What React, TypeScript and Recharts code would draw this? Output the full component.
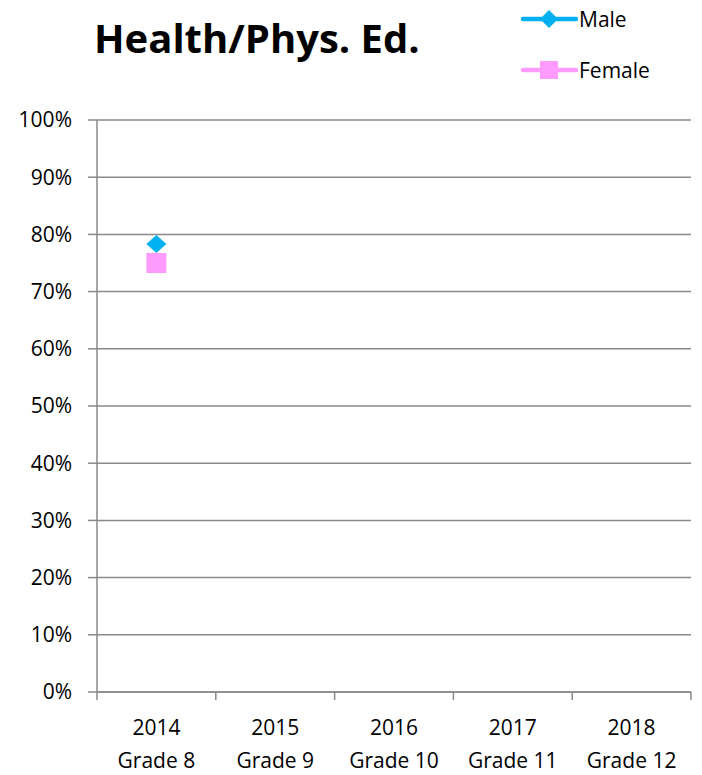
import React from "react";
import { CartesianGrid, Line, LineChart, XAxis, YAxis } from "recharts";

const years = ["2014", "2015", "2016", "2017", "2018"];
const grades = ["Grade 8", "Grade 9", "Grade 10", "Grade 11", "Grade 12"];
const malePct = [78.3, null, null, null, null];
const femalePct = [75, null, null, null, null];
const yTicks = [0, 10, 20, 30, 40, 50, 60, 70, 80, 90, 100];

const MALE = "#00b0f0";
const FEMALE = "#ff9bff";
const AXIS = "#898989";
const FONT = "'Open Sans', sans-serif";

const W = 702;
const H = 775;
const margin = { top: 120, right: 11, bottom: 0, left: 0 };
const yAxisW = 97;
const xAxisH = 83;
const band = (W - yAxisW - margin.right) / years.length;

const data = years.map((y, i) => ({ year: y, grade: grades[i], male: malePct[i], female: femalePct[i] }));

function XTick(props: any) {
  const { x, y, index } = props;
  const row = data[index];
  const left = x - band / 2;
  return (
    <g>
      <line x1={left} y1={y - 8} x2={left} y2={y} stroke={AXIS} strokeWidth={1.5} />
      {index === years.length - 1 && <line x1={x + band / 2} y1={y - 8} x2={x + band / 2} y2={y} stroke={AXIS} strokeWidth={1.5} />}
      <text x={x} y={y + 35} textAnchor="middle" fill="#000" fontSize={21} fontFamily={FONT}>{row?.year}</text>
      <text x={x} y={y + 68} textAnchor="middle" fill="#000" fontSize={21} fontFamily={FONT}>{row?.grade}</text>
    </g>
  );
}

function Diamond(props: any) {
  const { cx, cy, value } = props;
  if (value == null || cy == null) return <g key={props.index} />;
  const r = 10;
  return <polygon key={props.index} points={`${cx},${cy - r + 1} ${cx + r},${cy} ${cx},${cy + r - 1} ${cx - r},${cy}`} fill={MALE} />;
}

function Square(props: any) {
  const { cx, cy, value } = props;
  if (value == null || cy == null) return <g key={props.index} />;
  const s = 10;
  return <rect key={props.index} x={cx - s} y={cy - s} width={s * 2} height={s * 2} fill={FEMALE} />;
}

function LegendBox() {
  const items = [
    { label: "Male", color: MALE, icon: "diamond" },
    { label: "Female", color: FEMALE, icon: "square" }
  ];
  return (
    <div style={{ position: "absolute", left: 520, top: 5, fontFamily: FONT, fontSize: 21, color: "#000" }}>
      {items.map((it, i) => (
        <div key={it.label} style={{ display: "flex", alignItems: "center", height: 28, marginBottom: i === 0 ? 23 : 0 }}>
          <svg width={58} height={24}>
            <line x1={3} y1={12} x2={56} y2={12} stroke={it.color} strokeWidth={4.5} strokeLinecap="round" />
            {it.icon === "diamond" ? (
              <polygon points="29,3 38,12 29,21 20,12" fill={it.color} />
            ) : (
              <rect x={20} y={3} width={18} height={18} fill={it.color} />
            )}
          </svg>
          <span style={{ marginLeft: 1 }}>{it.label}</span>
        </div>
      ))}
    </div>
  );
}

export default function App() {
  return (
    <div style={{ position: "absolute", left: 0, top: 0, width: W, height: H, background: "#fff" }}>
      <div style={{ position: "absolute", left: 94, top: 10, fontFamily: FONT, fontWeight: 700, fontSize: 40, color: "#000", whiteSpace: "nowrap" }}>
        Health/Phys. Ed.
      </div>
      <LegendBox />
      <LineChart width={W} height={H} data={data} margin={margin}>
        <CartesianGrid horizontal vertical={false} stroke={AXIS} strokeWidth={1.5} />
        <XAxis
          dataKey="year"
          tick={<XTick />}
          tickLine={false}
          axisLine={{ stroke: AXIS, strokeWidth: 1.5 }}
          interval={0}
          height={xAxisH}
          padding={{ left: band / 2, right: band / 2 }}
        />
        <YAxis
          domain={[0, 100]}
          ticks={yTicks}
          interval={0}
          tickFormatter={(v) => `${v}%`}
          tick={{ fill: "#000", fontSize: 21, fontFamily: FONT }}
          tickSize={9}
          tickMargin={16}
          tickLine={{ stroke: AXIS, strokeWidth: 1.5 }}
          axisLine={{ stroke: AXIS, strokeWidth: 1.5 }}
          width={yAxisW}
        />
        <Line dataKey="male" name="Male" stroke={MALE} strokeWidth={3} dot={<Diamond />} isAnimationActive={false} connectNulls={false} />
        <Line dataKey="female" name="Female" stroke={FEMALE} strokeWidth={3} dot={<Square />} isAnimationActive={false} connectNulls={false} />
      </LineChart>
    </div>
  );
}
